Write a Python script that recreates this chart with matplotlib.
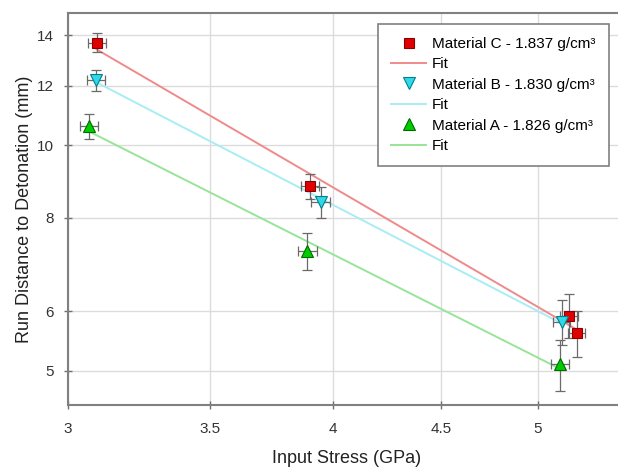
import matplotlib.pyplot as plt
import numpy as np
from matplotlib.ticker import FixedLocator, NullLocator, FuncFormatter

plt.rcParams['font.family'] = ['Liberation Sans', 'DejaVu Sans']

# Material C - 1.837 g/cm3
c_stress = [3.095, 3.903, 5.17, 5.215]
c_run = [13.69, 8.81, 5.92, 5.61]
c_xerr = [0.03, 0.04, 0.05, 0.05]
c_yerr = [0.4, 0.35, 0.4, 0.4]

# Material B - 1.830 g/cm3
b_stress = [3.092, 3.948, 5.13]
b_run = [12.2, 8.40, 5.81]
b_xerr = [0.03, 0.04, 0.05]
b_yerr = [0.4, 0.4, 0.4]

# Material A - 1.826 g/cm3
a_stress = [3.070, 3.891, 5.12]
a_run = [10.59, 7.22, 5.10]
a_xerr = [0.03, 0.04, 0.05]
a_yerr = [0.4, 0.4, 0.4]

x_ticks = [3, 3.5, 4, 4.5, 5]
y_ticks = [5, 6, 8, 10, 12, 14]


def pop_fit(x, y):
    # straight line in log-log space
    k, b = np.polyfit(np.log10(x), np.log10(y), 1)
    xs = np.linspace(min(x), max(x), 50)
    return xs, 10 ** (k * np.log10(xs) + b)


def main():
    fig = plt.figure(figsize=(6.18, 4.69), dpi=100)
    ax = fig.add_axes([0.110, 0.1365, 0.9023, 0.8358])
    ax.set_xscale('log')
    ax.set_yscale('log')

    series = [
        ("Material C - 1.837 g/cm³", c_stress, c_run, c_xerr, c_yerr,
         's', 6.5, '#e00000', '#8a0000', '#f08a8a'),
        ("Material B - 1.830 g/cm³", b_stress, b_run, b_xerr, b_yerr,
         'v', 8, '#30d8e8', '#00808c', '#a8ecf4'),
        ("Material A - 1.826 g/cm³", a_stress, a_run, a_xerr, a_yerr,
         '^', 8, '#00cc00', '#006a00', '#98e498'),
    ]

    handles = []
    for label, x, y, xe, ye, m, ms, fc, ec, lc in series:
        xs, ys = pop_fit(x, y)
        fit, = ax.plot(xs, ys, color=lc, lw=1.4, label="Fit", zorder=2)
        ax.errorbar(x, y, xerr=xe, yerr=ye, fmt='none', ecolor='#6a6a6a',
                    elinewidth=0.9, capsize=3.5, capthick=0.9, zorder=3)
        pts, = ax.plot(x, y, ls='none', marker=m, ms=ms, mfc=fc, mec=ec,
                       mew=0.8, label=label, zorder=4)
        handles += [pts, fit]

    ax.set_xlim(3, 5.5)
    ax.set_ylim(4.5, 15)
    ax.xaxis.set_major_locator(FixedLocator(x_ticks))
    ax.yaxis.set_major_locator(FixedLocator(y_ticks))
    ax.xaxis.set_minor_locator(NullLocator())
    ax.yaxis.set_minor_locator(NullLocator())
    fmt = FuncFormatter(lambda v, p: "%g" % v)
    ax.xaxis.set_major_formatter(fmt)
    ax.yaxis.set_major_formatter(fmt)

    ax.grid(True, color='#dcdcdc', lw=1)
    ax.set_axisbelow(True)
    for s in ax.spines.values():
        s.set_color('#808080')
        s.set_linewidth(1.5)
    ax.tick_params(direction='inout', length=6, width=1, color='#707070',
                   labelsize=11, labelcolor='#333333')
    ax.tick_params(axis='x', pad=9)
    ax.tick_params(axis='y', pad=7)

    ax.set_xlabel("Input Stress (GPa)", fontsize=13, color='#222222', labelpad=10.5)
    ax.set_ylabel("Run Distance to Detonation (mm)", fontsize=13, color='#222222',
                  labelpad=3)

    leg = ax.legend(handles=handles, loc='upper left',
                    bbox_to_anchor=(378 / 618, 1 - 24 / 469),
                    bbox_transform=fig.transFigure, fontsize=11,
                    fancybox=False, framealpha=1, edgecolor='#808080',
                    labelspacing=0.42, handlelength=2.3, handletextpad=0.4,
                    borderpad=0.85, borderaxespad=0)
    leg.get_frame().set_linewidth(1.2)

    fig.savefig("out.png", dpi=100)


if __name__ == "__main__":
    main()
